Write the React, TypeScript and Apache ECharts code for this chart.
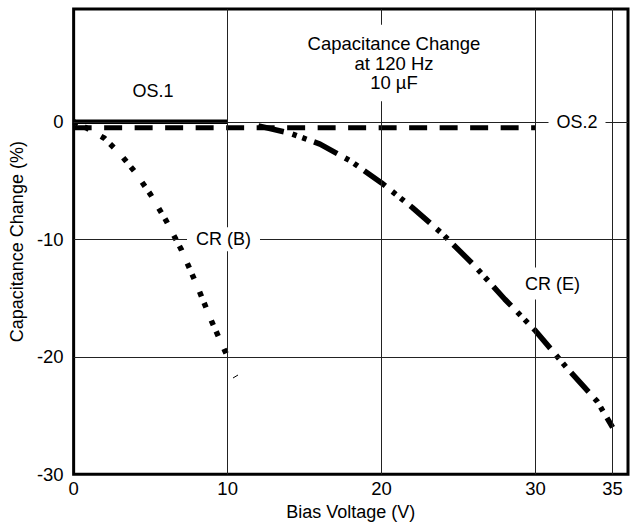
import React, { useEffect, useRef } from "react";
import * as echarts from "echarts";

const X_LABELS = [0, 10, 20, 30, 35];
const X_GRID = [10, 20, 30, 35];
const Y_GRID = [0, -10, -20];

const OS1: number[][] = [[0, 0], [10, 0]];
const OS2: number[][] = [[0, -0.5], [30, -0.5]];
const CRB: number[][] = [
  [0, 0], [0.8, -0.5], [2, -1.4], [3, -2.7], [4, -4.3], [5, -6.2],
  [6, -8.4], [7, -10.9], [8, -13.9], [9, -17.1], [10, -20],
];
const CRE: number[][] = [
  [12, -0.35], [14, -0.95], [16, -1.9], [18, -3.35], [20, -5.2], [22, -7.3],
  [24, -9.6], [26, -12.2], [28, -15.1], [30, -17.8], [32, -20.9], [34, -23.8], [35, -26],
];

const FONT = '"Liberation Sans", Arial, Helvetica, sans-serif';

export default function App() {
  const ref = useRef<HTMLDivElement>(null);
  useEffect(() => {
    if (!ref.current) return;
    const chart = echarts.init(ref.current, null, { renderer: "svg" });
    const left = 72, top = 9;
    const xMax = 36, yMin = -30, yMax = 9.6;
    const pxX = 15.65, pxY = 11.75;
    const width = (xMax - 0) * pxX;
    const height = (yMax - yMin) * pxY;
    const py = (v: number) => top + (yMax - v) * pxY;
    const txt = (text: string, x: number, y: number, size: number, pad: number[], lh?: number) => ({
      type: "text",
      x,
      y,
      z: 100,
      silent: true,
      style: {
        text,
        fill: "#000",
        font: `${size}px ${FONT}`,
        align: "center",
        verticalAlign: "middle",
        lineHeight: lh,
        backgroundColor: "#fff",
        padding: pad,
      },
    });
    const lineSeries = (name: string, data: number[][], w: number, type: any, extra: any = {}) => ({
      name,
      type: "line",
      data,
      symbol: "none",
      smooth: false,
      lineStyle: { color: "#000", width: w, type, cap: "butt" },
      z: 3,
      ...extra,
    });
    chart.setOption({
      animation: false,
      grid: {
        left,
        top,
        width,
        height,
        show: true,
        borderColor: "#000",
        borderWidth: 3,
        backgroundColor: "transparent",
      },
      xAxis: {
        type: "value",
        min: 0,
        max: xMax,
        interval: 5,
        axisLine: { show: false },
        axisTick: { show: false },
        splitLine: { show: false },
        axisLabel: {
          formatter: (v: number) => (X_LABELS.includes(v) ? String(v) : ""),
          color: "#000",
          fontSize: 18.5,
          fontFamily: FONT,
          margin: 5,
        },
        name: "Bias Voltage (V)",
        nameLocation: "middle",
        nameGap: 28,
        nameTextStyle: { color: "#000", fontSize: 18, fontFamily: FONT },
      },
      yAxis: {
        type: "value",
        min: yMin,
        max: yMax,
        interval: 10,
        axisLine: { show: false },
        axisTick: { show: false },
        splitLine: { show: false },
        axisLabel: {
          formatter: (v: number) => (v % 10 === 0 ? String(v) : ""),
          color: "#000",
          fontSize: 18.5,
          fontFamily: FONT,
          margin: 10,
        },
        name: "Capacitance Change (%)",
        nameLocation: "middle",
        nameGap: 40,
        nameTextStyle: { color: "#000", fontSize: 18, fontFamily: FONT },
      },
      series: [
        lineSeries("OS.1", OS1, 4.5, "solid", {
          markLine: {
            silent: true,
            symbol: ["none", "none"],
            label: { show: false },
            emphasis: { disabled: true },
            lineStyle: { color: "#222", width: 1, type: "solid" },
            data: [
              ...X_GRID.map((v) => ({ xAxis: v })),
              ...Y_GRID.map((v) => ({ yAxis: v })),
            ],
          },
        }),
        lineSeries("OS.2", OS2, 5, [18, 12.5]),
        lineSeries("CR (B)", CRB, 5.5, [5, 7, 5, 14]),
        lineSeries("CR (E)", CRE, 5.5, [26, 9, 4.5, 6, 4.5, 8]),
      ],
      graphic: [
        txt("OS.1", 153, 91, 18, [2, 4]),
        txt("Capacitance Change\nat 120 Hz\n10 µF", 394, 63, 18.5, [9, 8], 19.5),
        txt("OS.2", 577, py(0), 18, [3, 8]),
        txt("CR (B)", 223.5, py(-10), 18, [3, 9]),
        txt("CR (E)", 552.5, 283.5, 18, [7, 4]),
        {
          type: "line",
          z: 100,
          silent: true,
          shape: { x1: 233, y1: 378, x2: 238, y2: 375 },
          style: { stroke: "#000", lineWidth: 1 },
        },
      ],
    });
    return () => chart.dispose();
  }, []);
  return (
    <div
      ref={ref}
      style={{ position: "fixed", left: 0, top: 0, width: 631, height: 527, background: "#fff" }}
    />
  );
}
